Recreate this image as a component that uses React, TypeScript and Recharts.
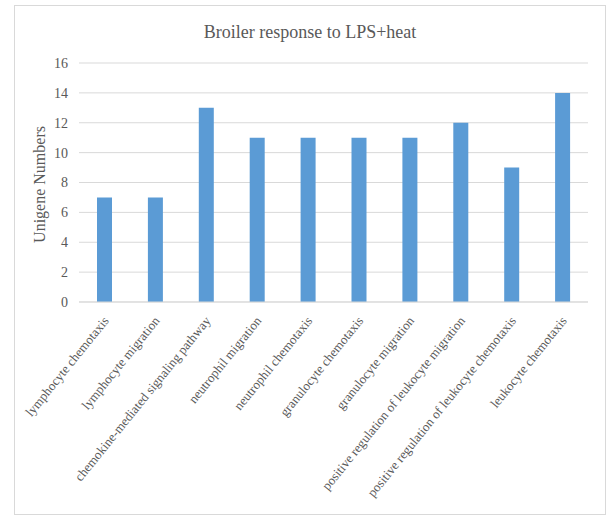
import { Bar, BarChart, CartesianGrid, XAxis, YAxis } from "recharts"

const terms = [
  "lymphocyte chemotaxis",
  "lymphocyte migration",
  "chemokine-mediated signaling pathway",
  "neutrophil migration",
  "neutrophil chemotaxis",
  "granulocyte chemotaxis",
  "granulocyte migration",
  "positive regulation of leukocyte migration",
  "positive regulation of leukocyte chemotaxis",
  "leukocyte chemotaxis",
]

const unigeneCounts = [7, 7, 13, 11, 11, 11, 11, 12, 9, 14]

const yTicks = [0, 2, 4, 6, 8, 10, 12, 14, 16]

const data = terms.map((term, i) => ({ term, count: unigeneCounts[i] }))

const FONT = '"Times New Roman", "Liberation Serif", serif'
const TEXT = "#595959"

function TermTick({ x, y, payload }: any) {
  return (
    <g transform={`translate(${x + 5},${y + 11})`}>
      <text
        textAnchor="end"
        transform="rotate(-51)"
        fill={TEXT}
        fontSize={13}
        fontFamily={FONT}
      >
        {payload.value}
      </text>
    </g>
  )
}

function AxisTitle({ viewBox }: any) {
  const cx = viewBox.x + 24
  const cy = viewBox.y + viewBox.height / 2 + 2
  return (
    <text
      x={cx}
      y={cy}
      transform={`rotate(-90, ${cx}, ${cy})`}
      textAnchor="middle"
      dominantBaseline="central"
      fill={TEXT}
      fontSize={16}
      fontFamily={FONT}
    >
      Unigene Numbers
    </text>
  )
}

export default function App() {
  return (
    <div
      style={{
        position: "absolute",
        left: 14,
        top: 5,
        width: 590,
        height: 508,
        border: "1px solid #d9d9d9",
        background: "#fff",
      }}
    >
      <div
        style={{
          position: "absolute",
          top: 16,
          width: "100%",
          textAlign: "center",
          fontFamily: FONT,
          fontSize: 18,
          color: TEXT,
        }}
      >
        Broiler response to LPS+heat
      </div>
      <BarChart
        width={590}
        height={508}
        data={data}
        margin={{ top: 57, right: 17, left: 0, bottom: 12 }}
        barSize={15}
      >
        <CartesianGrid vertical={false} stroke="#d9d9d9" />
        <XAxis
          dataKey="term"
          interval={0}
          height={200}
          tickLine={false}
          axisLine={{ stroke: "#d9d9d9" }}
          tick={<TermTick />}
        />
        <YAxis
          width={64}
          domain={[0, 16]}
          ticks={yTicks}
          tickLine={false}
          axisLine={false}
          tickSize={0}
          tickMargin={11}
          tick={{ fill: TEXT, fontSize: 14, fontFamily: FONT }}
          label={{ content: <AxisTitle /> }}
        />
        <Bar dataKey="count" fill="#5b9bd5" isAnimationActive={false} />
      </BarChart>
    </div>
  )
}
